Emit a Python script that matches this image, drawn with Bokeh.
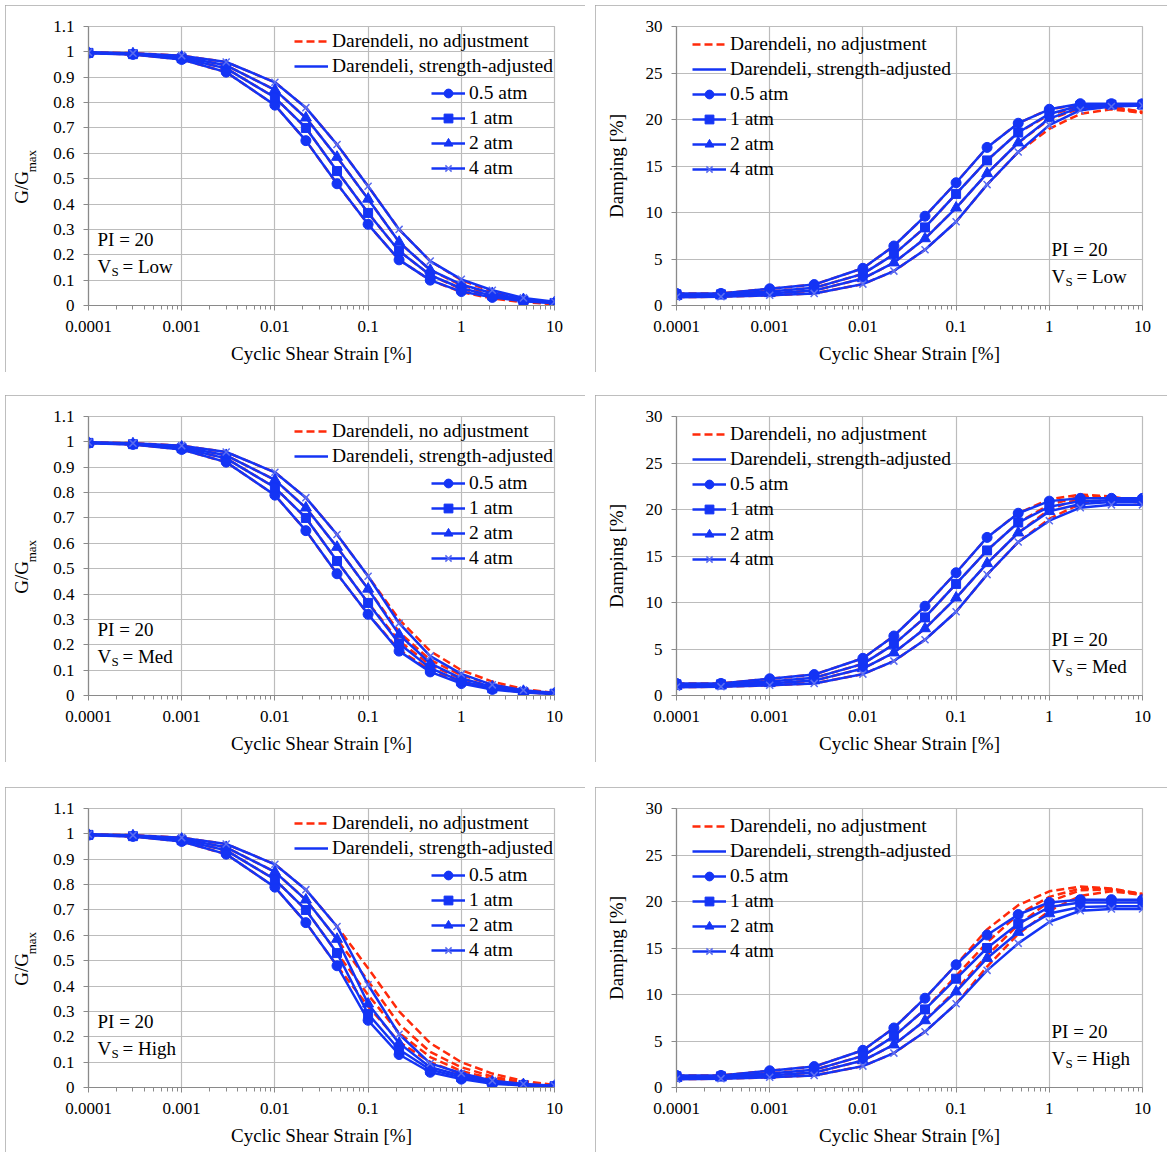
from bokeh.plotting import figure
from bokeh.layouts import row, column
from bokeh.models import (Range1d, FixedTicker, CustomJSTickFormatter, Legend,
                          LegendItem, Label, LinearAxis)
from bokeh.embed import file_html
from bokeh.resources import INLINE

# ---------------- data ----------------
strain = [0.0001, 0.0003, 0.001, 0.003, 0.01, 0.0215, 0.0464, 0.1, 0.215, 0.464,
          1.0, 2.15, 4.64, 10.0]
pressures = ["0.5 atm", "1 atm", "2 atm", "4 atm"]
markers = ["circle", "square", "triangle", "x"]
x_ticks = [0.0001, 0.001, 0.01, 0.1, 1, 10]
g_ticks = [0, 0.1, 0.2, 0.3, 0.4, 0.5, 0.6, 0.7, 0.8, 0.9, 1.0, 1.1]
d_ticks = [0, 5, 10, 15, 20, 25, 30]
vs_levels = ["Low", "Med", "High"]

# Darendeli, no adjustment (G/Gmax)
gg_base = {
    "0.5 atm": [0.995, 0.990, 0.970, 0.920, 0.790, 0.650, 0.480, 0.320, 0.180, 0.100, 0.053, 0.028, 0.013, 0.005],
    "1 atm":   [0.996, 0.991, 0.975, 0.935, 0.820, 0.700, 0.530, 0.365, 0.215, 0.120, 0.065, 0.035, 0.016, 0.006],
    "2 atm":   [0.997, 0.993, 0.980, 0.947, 0.850, 0.740, 0.585, 0.420, 0.250, 0.140, 0.080, 0.043, 0.020, 0.008],
    "4 atm":   [0.998, 0.995, 0.985, 0.960, 0.880, 0.780, 0.635, 0.470, 0.300, 0.175, 0.100, 0.055, 0.026, 0.010],
}
gg_low = {
    "0.5 atm": [0.995, 0.990, 0.970, 0.920, 0.790, 0.650, 0.480, 0.320, 0.180, 0.100, 0.055, 0.032, 0.017, 0.009],
    "1 atm":   [0.996, 0.991, 0.975, 0.935, 0.820, 0.700, 0.530, 0.365, 0.215, 0.120, 0.068, 0.039, 0.020, 0.010],
    "2 atm":   [0.997, 0.993, 0.980, 0.947, 0.850, 0.740, 0.585, 0.420, 0.250, 0.140, 0.083, 0.048, 0.024, 0.012],
    "4 atm":   [0.998, 0.995, 0.985, 0.960, 0.880, 0.780, 0.635, 0.470, 0.300, 0.175, 0.103, 0.060, 0.030, 0.015],
}
gg_med = {
    "0.5 atm": [0.995, 0.990, 0.970, 0.920, 0.790, 0.650, 0.480, 0.320, 0.175, 0.093, 0.047, 0.024, 0.012, 0.006],
    "1 atm":   [0.996, 0.991, 0.975, 0.935, 0.820, 0.700, 0.530, 0.365, 0.205, 0.108, 0.056, 0.028, 0.014, 0.007],
    "2 atm":   [0.997, 0.993, 0.980, 0.947, 0.850, 0.740, 0.585, 0.420, 0.240, 0.127, 0.068, 0.034, 0.017, 0.008],
    "4 atm":   [0.998, 0.995, 0.985, 0.960, 0.880, 0.780, 0.635, 0.470, 0.285, 0.155, 0.085, 0.042, 0.021, 0.010],
}
gg_high = {
    "0.5 atm": [0.995, 0.990, 0.970, 0.920, 0.790, 0.650, 0.480, 0.265, 0.130, 0.060, 0.033, 0.015, 0.008, 0.004],
    "1 atm":   [0.996, 0.991, 0.975, 0.935, 0.820, 0.700, 0.530, 0.290, 0.150, 0.070, 0.040, 0.018, 0.010, 0.005],
    "2 atm":   [0.997, 0.993, 0.980, 0.947, 0.850, 0.740, 0.585, 0.330, 0.175, 0.080, 0.047, 0.022, 0.012, 0.006],
    "4 atm":   [0.998, 0.995, 0.985, 0.960, 0.880, 0.780, 0.635, 0.405, 0.210, 0.095, 0.056, 0.027, 0.014, 0.007],
}

# Darendeli, no adjustment (Damping %)
damp_base = {
    "0.5 atm": [1.3, 1.3, 1.8, 2.25, 4.0, 6.4, 9.6, 13.2, 17.0, 19.6, 21.1, 21.6, 21.4, 20.8],
    "1 atm":   [1.2, 1.2, 1.5, 1.9, 3.4, 5.5, 8.4, 12.0, 15.6, 18.6, 20.5, 21.4, 21.3, 20.8],
    "2 atm":   [1.0, 1.05, 1.3, 1.6, 2.9, 4.6, 7.2, 10.5, 14.2, 17.5, 20.0, 21.2, 21.3, 20.7],
    "4 atm":   [0.9, 0.95, 1.1, 1.3, 2.3, 3.7, 6.0, 9.0, 13.0, 16.5, 19.0, 20.6, 21.1, 20.7],
}
damp_low = {
    "0.5 atm": [1.3, 1.3, 1.8, 2.25, 4.0, 6.4, 9.6, 13.2, 17.0, 19.6, 21.1, 21.7, 21.7, 21.7],
    "1 atm":   [1.2, 1.2, 1.5, 1.9, 3.4, 5.5, 8.4, 12.0, 15.6, 18.6, 20.6, 21.5, 21.6, 21.6],
    "2 atm":   [1.0, 1.05, 1.3, 1.6, 2.9, 4.6, 7.2, 10.5, 14.2, 17.5, 20.1, 21.3, 21.5, 21.5],
    "4 atm":   [0.9, 0.95, 1.1, 1.3, 2.3, 3.7, 6.0, 9.0, 13.0, 16.5, 19.4, 21.0, 21.4, 21.5],
}
damp_med = {
    "0.5 atm": [1.3, 1.3, 1.8, 2.25, 4.0, 6.4, 9.6, 13.2, 17.0, 19.6, 20.9, 21.2, 21.2, 21.2],
    "1 atm":   [1.2, 1.2, 1.5, 1.9, 3.4, 5.5, 8.4, 12.0, 15.6, 18.6, 20.3, 20.9, 21.0, 21.0],
    "2 atm":   [1.0, 1.05, 1.3, 1.6, 2.9, 4.6, 7.2, 10.5, 14.2, 17.5, 19.8, 20.6, 20.8, 20.8],
    "4 atm":   [0.9, 0.95, 1.1, 1.3, 2.3, 3.7, 6.0, 9.0, 13.0, 16.5, 18.8, 20.2, 20.5, 20.5],
}
damp_high = {
    "0.5 atm": [1.3, 1.3, 1.8, 2.25, 4.0, 6.4, 9.6, 13.2, 16.4, 18.6, 19.9, 20.2, 20.2, 20.2],
    "1 atm":   [1.2, 1.2, 1.5, 1.9, 3.4, 5.5, 8.4, 11.7, 15.0, 17.6, 19.4, 19.9, 19.9, 19.9],
    "2 atm":   [1.0, 1.05, 1.3, 1.6, 2.9, 4.6, 7.2, 10.3, 13.9, 16.7, 18.7, 19.4, 19.5, 19.5],
    "4 atm":   [0.9, 0.95, 1.1, 1.3, 2.3, 3.7, 6.0, 9.0, 12.6, 15.5, 17.8, 19.0, 19.2, 19.2],
}

# ---------------- style ----------------
FONT = "Liberation Serif"
BLUE = "#1434f5"
RED = "#ff2a0a"
GRID = "#bcbcbc"
AXIS = "#8a8a8a"
NB = "\u00a0"
x_minor = [m * 10.0 ** e for e in range(-4, 1) for m in range(2, 10)]
fmt_js = "return String(Number(tick.toPrecision(6)));"
marker_size = {"circle": 10, "square": 9, "triangle": 11, "x": 10}


def make_panel(kind, base, adj, vs, width, height, margin, mbt, mbb, mbl, mbr):
    is_g = kind == "g"
    p = figure(width=width, height=height, x_axis_type="log",
               x_range=Range1d(1e-4, 10), y_range=Range1d(0, 1.1 if is_g else 30),
               output_backend="svg", toolbar_location=None,
               min_border_top=mbt, min_border_bottom=mbb,
               min_border_left=mbl, min_border_right=mbr,
               background_fill_color="white", border_fill_color="white",
               outline_line_color=GRID, outline_line_width=1.2)
    p.margin = margin
    p.styles = {"outline": "1.5px solid #a8a8a8", "outline-offset": "-1.5px"}

    xt = FixedTicker(ticks=x_ticks, minor_ticks=x_minor)
    yt = FixedTicker(ticks=g_ticks if is_g else d_ticks)
    p.xaxis.ticker = xt
    p.xgrid.ticker = xt
    p.yaxis.ticker = yt
    p.ygrid.ticker = yt
    p.xaxis.formatter = CustomJSTickFormatter(code=fmt_js)
    p.yaxis.formatter = CustomJSTickFormatter(code=fmt_js)

    for ax in (p.xaxis[0], p.yaxis[0]):
        ax.major_label_text_font = FONT
        ax.major_label_text_font_size = "17px"
        ax.major_label_text_color = "black"
        ax.axis_label_text_font = FONT
        ax.axis_label_text_font_size = "19px"
        ax.axis_label_text_font_style = "normal"
        ax.axis_label_text_color = "black"
        ax.axis_line_color = AXIS
        ax.axis_line_width = 1.2
        ax.major_tick_line_color = AXIS
        ax.minor_tick_line_color = AXIS
        ax.major_tick_in = 0
        ax.major_tick_out = 5
        ax.minor_tick_in = 0
        ax.minor_tick_out = 4
    p.yaxis.minor_tick_line_color = None
    p.xaxis.major_label_standoff = 10
    p.yaxis.major_label_standoff = 9
    p.xaxis.axis_label = "Cyclic Shear Strain [%]"
    p.xaxis.axis_label_standoff = 8
    if is_g:
        # y title "G/Gmax": subscript on the inner axis, main part on an outer blank axis
        p.yaxis.axis_label = NB * 3 + "max"
        p.yaxis.axis_label_text_font_size = "13px"
        p.yaxis.axis_label_standoff = 11
        outer = LinearAxis(ticker=FixedTicker(ticks=[]), axis_label="G/G" + NB * 9,
                           axis_label_text_font=FONT, axis_label_text_font_size="19px",
                           axis_label_text_font_style="normal", axis_label_text_color="black",
                           axis_label_standoff=-10, axis_line_color=None,
                           major_tick_line_color=None, minor_tick_line_color=None,
                           major_label_text_color=None)
        p.add_layout(outer, "left")
    else:
        p.yaxis.axis_label = "Damping [%]"
        p.yaxis.axis_label_standoff = 16

    p.xgrid.grid_line_color = GRID
    p.ygrid.grid_line_color = GRID
    p.xgrid.grid_line_width = 1.2
    p.ygrid.grid_line_width = 1.2

    reds = []
    for k in pressures:
        reds.append(p.line(strain, base[k], line_color=RED, line_width=2.5, line_dash="8 4"))
    blue_lines, blue_pts = [], []
    for k, m in zip(pressures, markers):
        blue_lines.append(p.line(strain, adj[k], line_color=BLUE, line_width=2.5))
        if m == "x":
            sc = p.scatter(strain, adj[k], marker=m, size=marker_size[m],
                           line_color="#5a6cf0", line_width=1.5)
        else:
            sc = p.scatter(strain, adj[k], marker=m, size=marker_size[m],
                           fill_color=BLUE, line_color=BLUE)
        blue_pts.append(sc)

    head = [LegendItem(label="Darendeli, no adjustment", renderers=[reds[0]]),
            LegendItem(label="Darendeli, strength-adjusted", renderers=[blue_lines[0]])]
    atm = [LegendItem(label=k, renderers=[blue_lines[i], blue_pts[i]])
           for i, k in enumerate(pressures)]

    def style(leg, spacing):
        leg.label_text_font = FONT
        leg.label_text_font_size = "19.5px"
        leg.label_text_color = "black"
        leg.glyph_width = 34
        leg.glyph_height = 22
        leg.label_height = 22
        leg.spacing = spacing
        leg.label_standoff = 4
        leg.padding = 0
        leg.margin = 0
        leg.border_line_color = None
        leg.background_fill_alpha = 0

    if is_g:
        l1 = Legend(items=head, location=(206, 228))
        l2 = Legend(items=atm, location=(343, 126))
        style(l1, 3)
        style(l2, 3)
        p.add_layout(l1, "center")
        p.add_layout(l2, "center")
        lx, ly1, ly2 = 9, 66, 39
    else:
        l1 = Legend(items=head + atm, location=(16, 125))
        style(l1, 3)
        p.add_layout(l1, "center")
        lx, ly1, ly2 = 375, 56, 29

    common = dict(x_units="screen", y_units="screen", text_font=FONT,
                  text_baseline="middle", text_color="black")
    p.add_layout(Label(x=lx, y=ly1, text="PI = 20", text_font_size="19px", **common))
    p.add_layout(Label(x=lx, y=ly2, text="V", text_font_size="19px", **common))
    p.add_layout(Label(x=lx + 14, y=ly2 - 5, text="S", text_font_size="13px", **common))
    p.add_layout(Label(x=lx + 25, y=ly2, text="= " + vs, text_font_size="19px", **common))
    return p


g_adj = [gg_low, gg_med, gg_high]
d_adj = [damp_low, damp_med, damp_high]
tops = [5, 23, 25]
heights = [367, 367, 365]
bottoms = [67, 67, 65]

rows = []
for i, vs in enumerate(vs_levels):
    pg = make_panel("g", gg_base, g_adj[i], vs, 580, heights[i], (tops[i], 0, 0, 5),
                    20, bottoms[i], 83, 31)
    pd = make_panel("d", damp_base, d_adj[i], vs, 572, heights[i], (tops[i], 0, 0, 10),
                    21, bottoms[i], 81, 25)
    rows.append(row(pg, pd))

layout = column(*rows)
open("out.html", "w").write(file_html(layout, INLINE))
